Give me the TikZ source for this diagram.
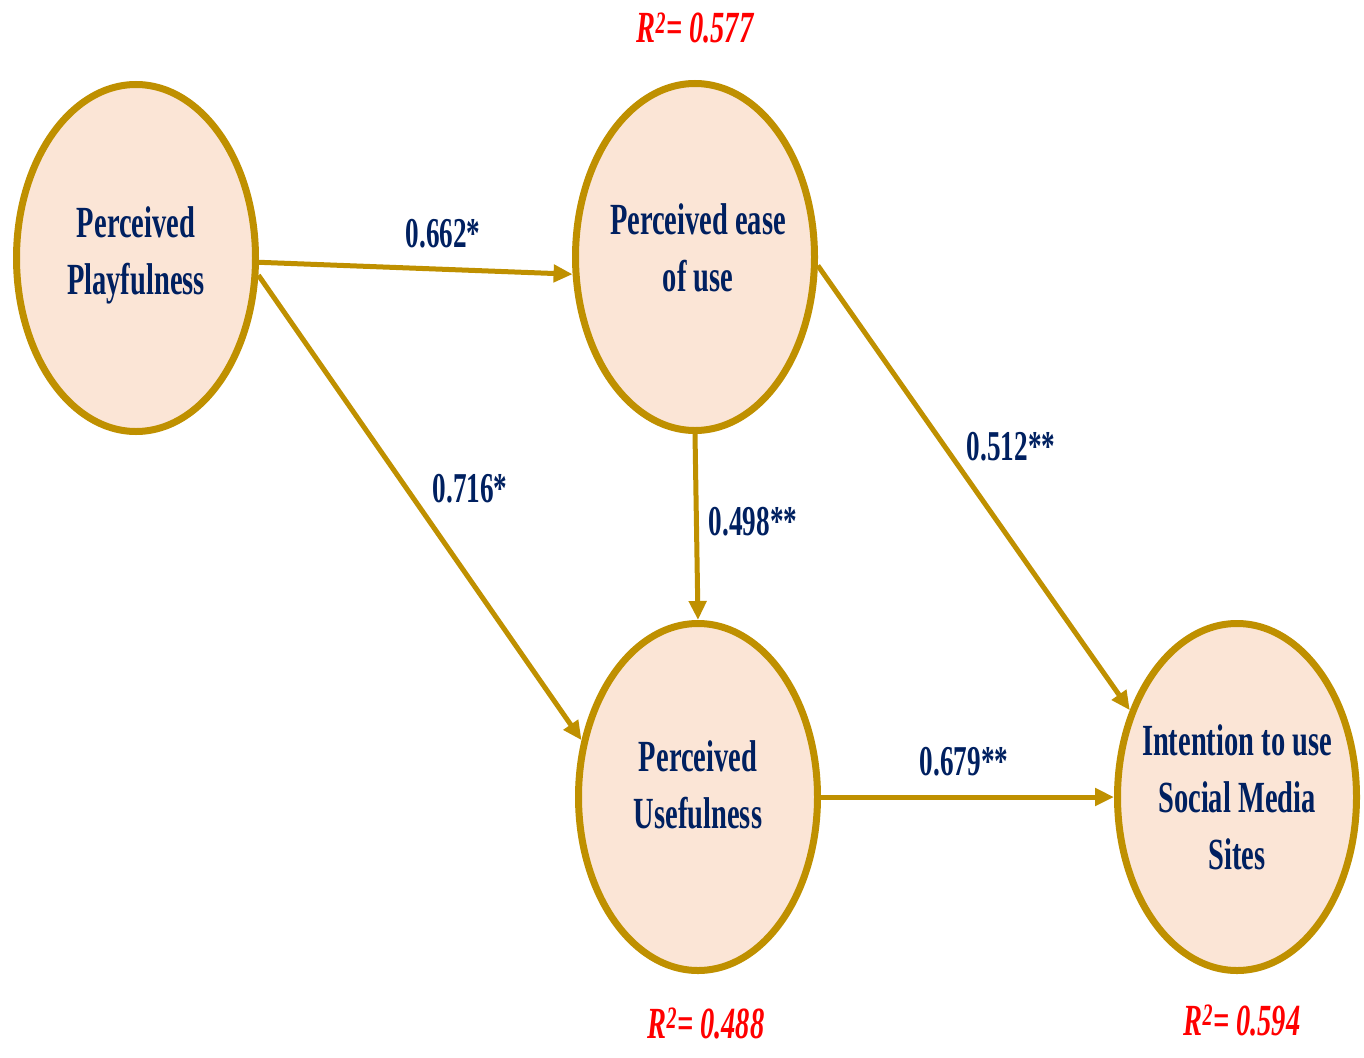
\documentclass[tikz,border=0pt]{standalone}
\usepackage{fontspec}
\newfontfamily\cond[FakeStretch=0.64]{Liberation Serif}
\usetikzlibrary{shapes.geometric,arrows.meta}
\definecolor{gold}{HTML}{BF9000}
\definecolor{peach}{HTML}{FBE5D6}
\definecolor{navy}{HTML}{002060}
\definecolor{rred}{HTML}{FF0000}
\tikzset{
  construct/.style={ellipse, draw=gold, fill=peach, line width=7pt,
    minimum width=239pt, minimum height=347pt, inner sep=0pt},
  ctext/.style={text=navy, align=center,
    font=\cond\bfseries\fontsize{44.5}{57}\selectfont},
  coef/.style={text=navy, anchor=base,
    font=\cond\bfseries\fontsize{42.5}{48}\selectfont},
  rsq/.style={text=rred, anchor=base,
    font=\cond\bfseries\itshape\fontsize{44.5}{50}\selectfont},
  path/.style={draw=gold, line width=5pt,
    -{Triangle[length=19pt,width=17pt]}}
}
\begin{document}
\begin{tikzpicture}[x=1pt,y=-1pt]
\useasboundingbox (0,0) rectangle (1364,1057);
% constructs
\node[construct] (pp) at (136,258) {};
\node[construct] (peou) at (695,257) {};
\node[construct] (pu) at (698,797) {};
\node[construct] (int) at (1237,797) {};
% texts
\node[ctext] (ppt) at ([yshift=3pt]pp.center) {Perceived\\Playfulness};
\node[ctext] (peout) at ([yshift=9pt,xshift=3pt]peou.center) {Perceived ease\\of use};
\node[ctext] (put) at ([yshift=12pt]pu.center) {Perceived\\Usefulness};
\node[ctext] (intt) at (int.center) {Intention to use\\Social Media\\Sites};
% paths
\draw[path] (pp.-2) -- (peou.188.3);
\draw[path] (pp.-8) -- (pu.154.2);
\draw[path] (peou.south) -- (pu.north);
\draw[path] (peou.-4) -- (int.141.4);
\draw[path] (pu.east) -- (int.west);
% coefficients
\node[coef] (c1) at (443,247) {0.662*};
\node[coef] (c2) at (470,502) {0.716*};
\node[coef] (c3) at (753,535) {0.498**};
\node[coef] (c4) at (1011,460) {0.512**};
\node[coef] (c5) at (964,775) {0.679**};
% R squared
\node[rsq] (r1) at (695,43) {R\textsuperscript{2}= 0.577};
\node[rsq] (r2) at (706,1038) {R\textsuperscript{2}= 0.488};
\node[rsq] (r3) at (1242,1035) {R\textsuperscript{2}= 0.594};
\end{tikzpicture}
\end{document}
